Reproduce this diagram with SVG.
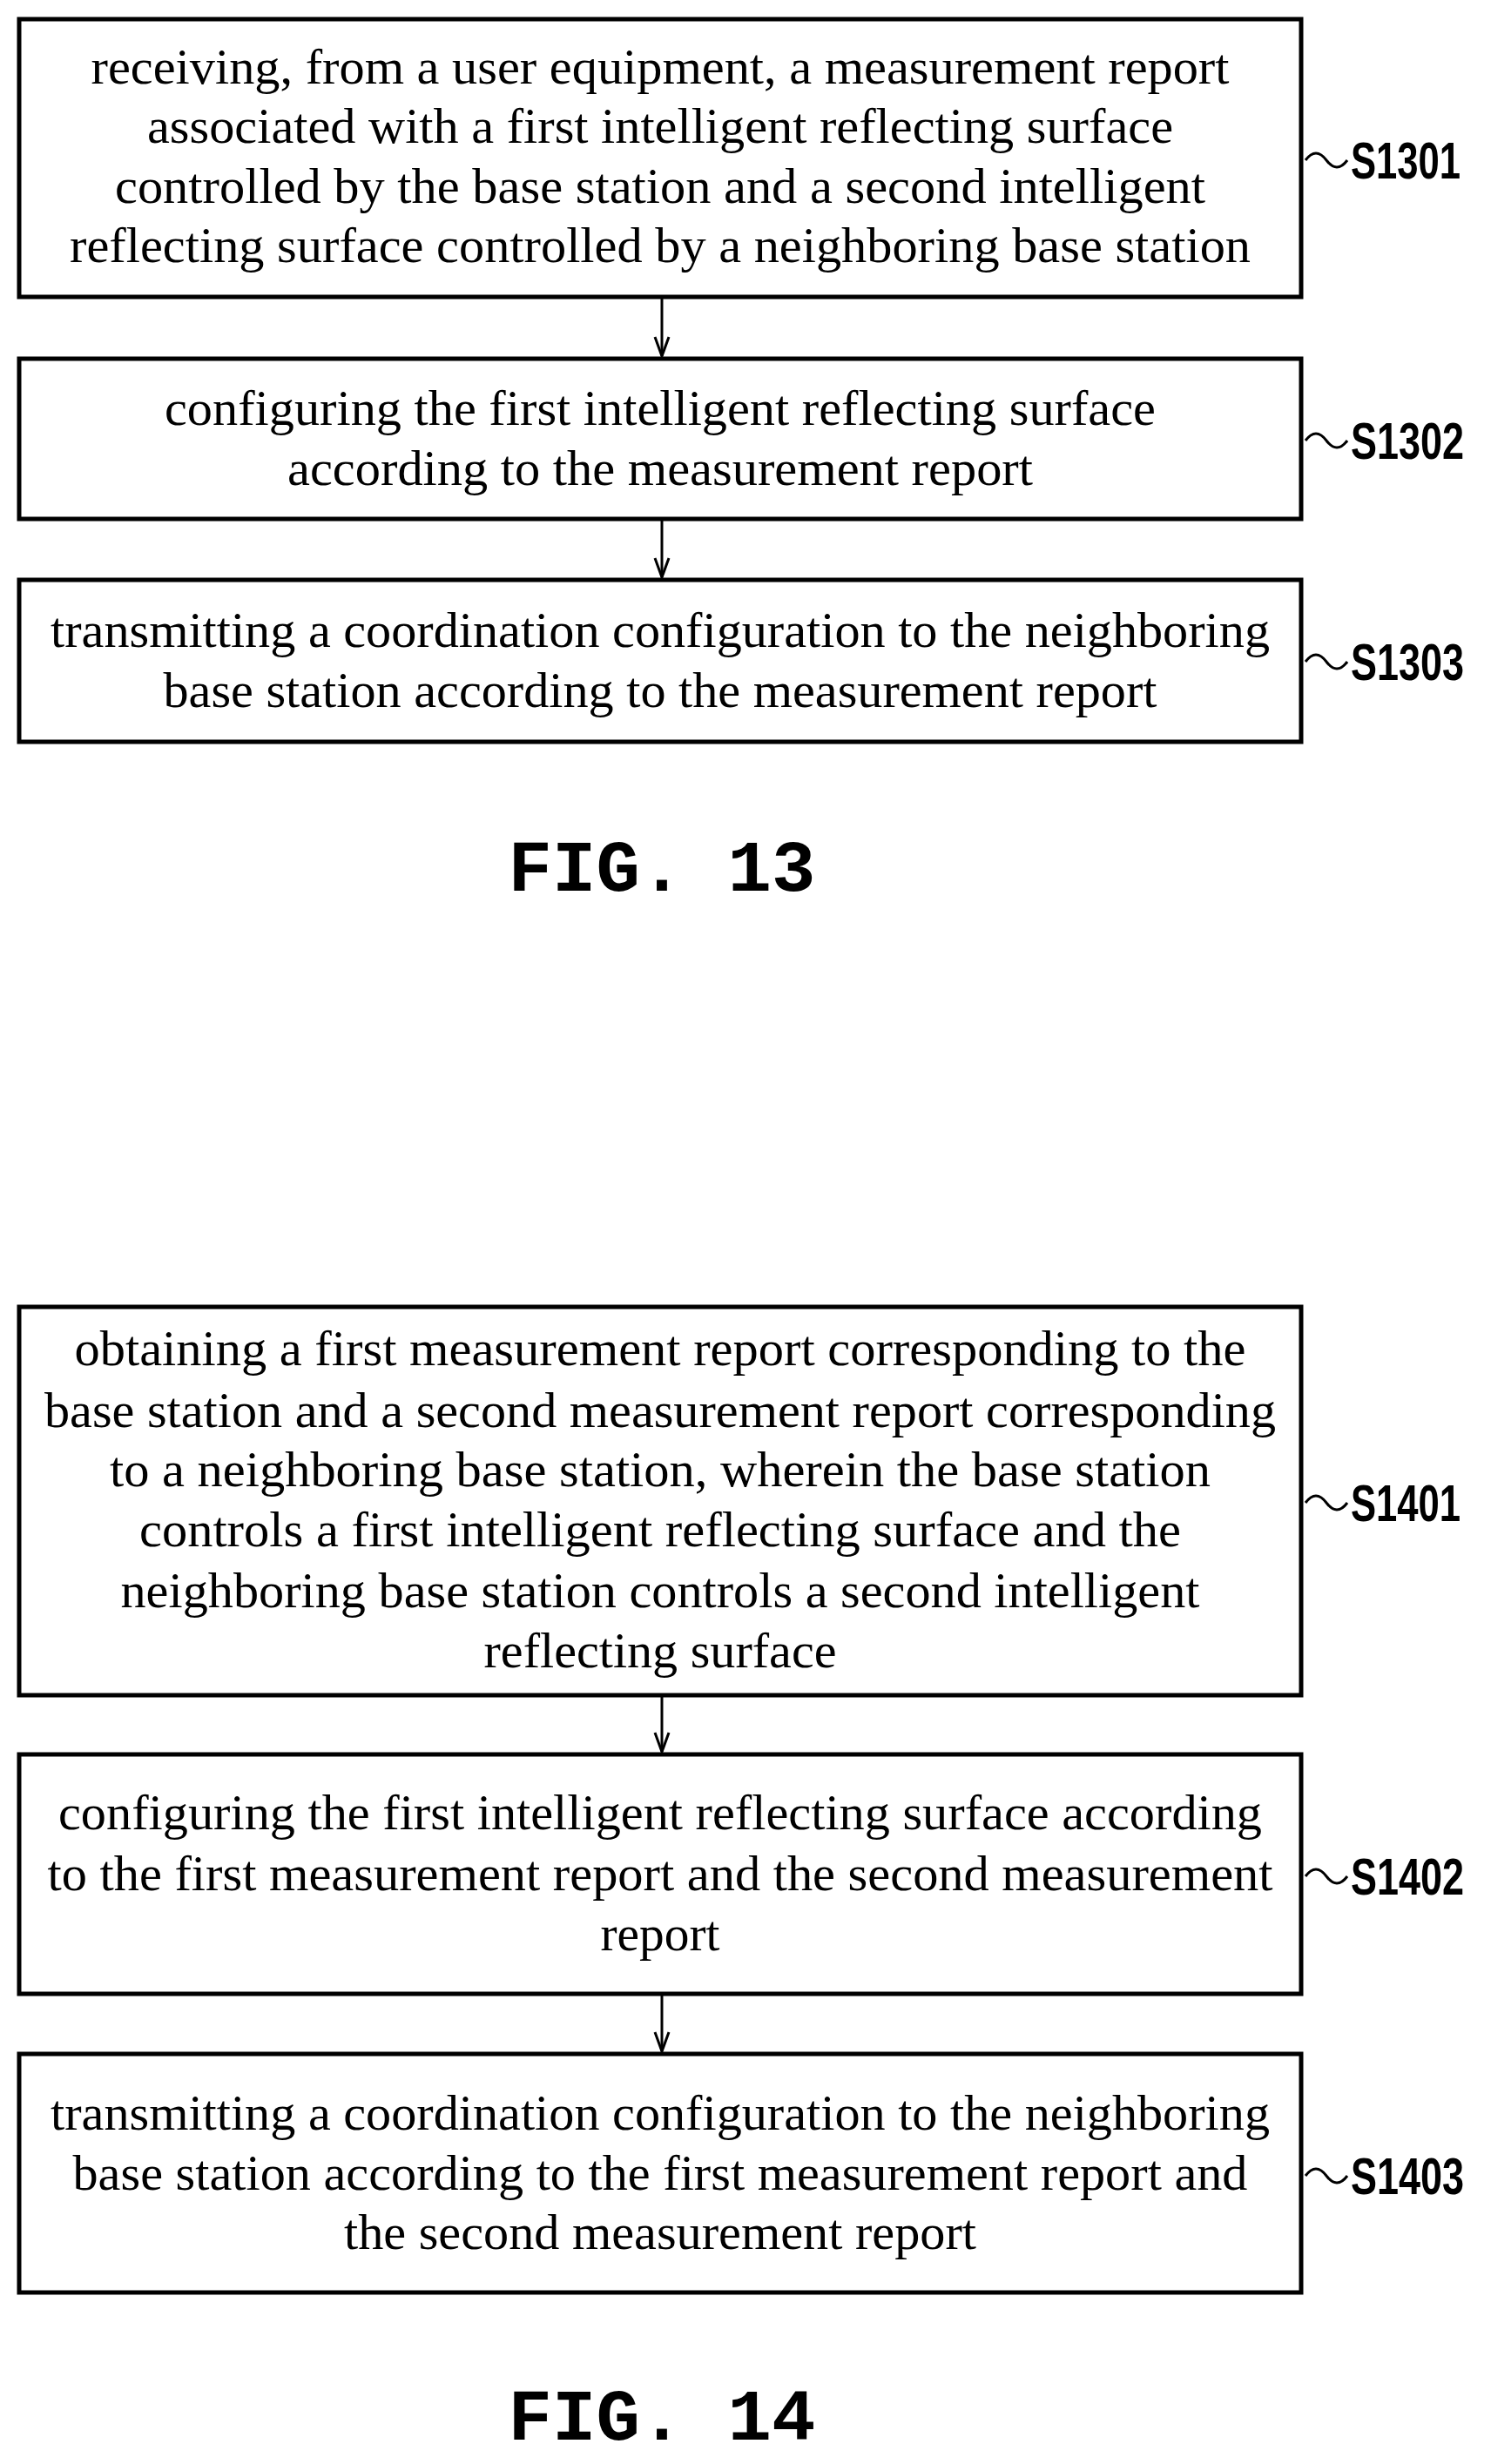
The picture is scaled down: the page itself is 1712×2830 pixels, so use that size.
<svg xmlns="http://www.w3.org/2000/svg" width="1712" height="2830" viewBox="0 0 1712 2830">
<style>
.box{fill:#fff;stroke:#000;stroke-width:5}
.t{font-family:"Liberation Serif",serif;font-size:58px;text-anchor:middle}
.lb{font-family:"Liberation Sans",sans-serif;font-size:60px;font-weight:bold}
.fig{font-family:"Liberation Mono",monospace;font-size:84px;font-weight:bold;text-anchor:middle}
.ln{fill:none;stroke:#000;stroke-width:3}
</style>
<defs><marker id="a" markerWidth="26" markerHeight="20" refX="24" refY="10" orient="auto" markerUnits="userSpaceOnUse" viewBox="0 0 26 20"><path d="M2,2 L24,10 L2,18" fill="none" stroke="#000" stroke-width="3"/></marker></defs>
<rect width="1712" height="2830" fill="#fff"/>
<g id="S1301"><rect class="box" x="22" y="22" width="1472" height="319"/>
<text class="t" x="758" y="96" textLength="1307" lengthAdjust="spacingAndGlyphs">receiving, from a user equipment, a measurement report</text>
<text class="t" x="758" y="164" textLength="1178" lengthAdjust="spacingAndGlyphs">associated with a first intelligent reflecting surface</text>
<text class="t" x="758" y="233" textLength="1252" lengthAdjust="spacingAndGlyphs">controlled by the base station and a second intelligent</text>
<text class="t" x="758" y="301" textLength="1356" lengthAdjust="spacingAndGlyphs">reflecting surface controlled by a neighboring base station</text>
<path class="ln" d="M1499,184 q12,-16 24,0 t24,0"/><text class="lb" x="1551" y="205" textLength="126" lengthAdjust="spacingAndGlyphs">S1301</text></g>
<g id="S1302"><rect class="box" x="22" y="412" width="1472" height="184"/>
<text class="t" x="758" y="488" textLength="1138" lengthAdjust="spacingAndGlyphs">configuring the first intelligent reflecting surface</text>
<text class="t" x="758" y="557" textLength="856" lengthAdjust="spacingAndGlyphs">according to the measurement report</text>
<path class="ln" d="M1499,506 q12,-16 24,0 t24,0"/><text class="lb" x="1551" y="527" textLength="130" lengthAdjust="spacingAndGlyphs">S1302</text></g>
<g id="S1303"><rect class="box" x="22" y="666" width="1472" height="186"/>
<text class="t" x="758" y="743" textLength="1400" lengthAdjust="spacingAndGlyphs">transmitting a coordination configuration to the neighboring</text>
<text class="t" x="758" y="812" textLength="1141" lengthAdjust="spacingAndGlyphs">base station according to the measurement report</text>
<path class="ln" d="M1499,760 q12,-16 24,0 t24,0"/><text class="lb" x="1551" y="781" textLength="130" lengthAdjust="spacingAndGlyphs">S1303</text></g>
<text class="fig" x="760" y="1023">FIG. 13</text>
<g id="S1401"><rect class="box" x="22" y="1501" width="1472" height="446"/>
<text class="t" x="758" y="1568" textLength="1345" lengthAdjust="spacingAndGlyphs">obtaining a first measurement report corresponding to the</text>
<text class="t" x="758" y="1639" textLength="1414" lengthAdjust="spacingAndGlyphs">base station and a second measurement report corresponding</text>
<text class="t" x="758" y="1707" textLength="1264" lengthAdjust="spacingAndGlyphs">to a neighboring base station, wherein the base station</text>
<text class="t" x="758" y="1776" textLength="1196" lengthAdjust="spacingAndGlyphs">controls a first intelligent reflecting surface and the</text>
<text class="t" x="758" y="1846" textLength="1239" lengthAdjust="spacingAndGlyphs">neighboring base station controls a second intelligent</text>
<text class="t" x="758" y="1915" textLength="405" lengthAdjust="spacingAndGlyphs">reflecting surface</text>
<path class="ln" d="M1499,1726 q12,-16 24,0 t24,0"/><text class="lb" x="1551" y="1747" textLength="126" lengthAdjust="spacingAndGlyphs">S1401</text></g>
<g id="S1402"><rect class="box" x="22" y="2015" width="1472" height="275"/>
<text class="t" x="758" y="2101" textLength="1382" lengthAdjust="spacingAndGlyphs">configuring the first intelligent reflecting surface according</text>
<text class="t" x="758" y="2171" textLength="1407" lengthAdjust="spacingAndGlyphs">to the first measurement report and the second measurement</text>
<text class="t" x="758" y="2240" textLength="137" lengthAdjust="spacingAndGlyphs">report</text>
<path class="ln" d="M1499,2155 q12,-16 24,0 t24,0"/><text class="lb" x="1551" y="2176" textLength="130" lengthAdjust="spacingAndGlyphs">S1402</text></g>
<g id="S1403"><rect class="box" x="22" y="2359" width="1472" height="274"/>
<text class="t" x="758" y="2446" textLength="1400" lengthAdjust="spacingAndGlyphs">transmitting a coordination configuration to the neighboring</text>
<text class="t" x="758" y="2515" textLength="1349" lengthAdjust="spacingAndGlyphs">base station according to the first measurement report and</text>
<text class="t" x="758" y="2583" textLength="726" lengthAdjust="spacingAndGlyphs">the second measurement report</text>
<path class="ln" d="M1499,2499 q12,-16 24,0 t24,0"/><text class="lb" x="1551" y="2520" textLength="130" lengthAdjust="spacingAndGlyphs">S1403</text></g>
<text class="fig" x="760" y="2802">FIG. 14</text>
<g id="connectors">
<line class="ln" x1="760" y1="343" x2="760" y2="409" marker-end="url(#a)"/>
<line class="ln" x1="760" y1="598" x2="760" y2="663" marker-end="url(#a)"/>
<line class="ln" x1="760" y1="1949" x2="760" y2="2012" marker-end="url(#a)"/>
<line class="ln" x1="760" y1="2292" x2="760" y2="2356" marker-end="url(#a)"/>
</g>
</svg>
